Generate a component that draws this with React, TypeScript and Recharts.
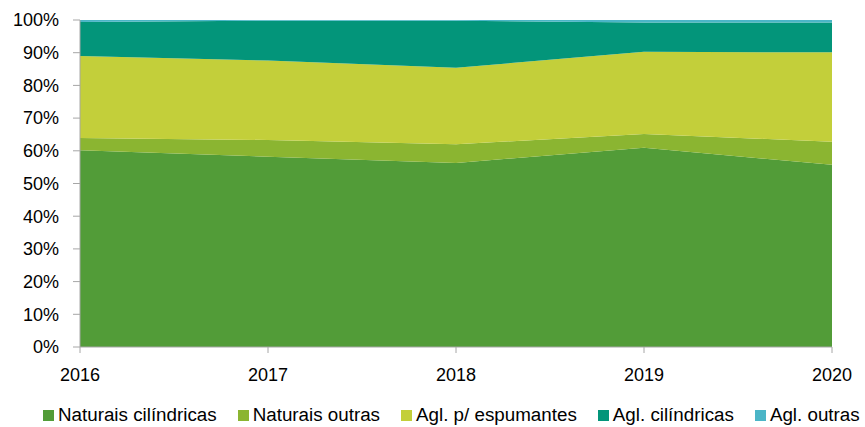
import React from 'react';
import { AreaChart, Area, XAxis, YAxis, Legend } from 'recharts';

const years = ['2016', '2017', '2018', '2019', '2020'];
const naturaisCilindricas = [60.2, 58.2, 56.3, 60.9, 55.7];
const naturaisOutras = [3.7, 5.1, 5.7, 4.2, 7.1];
const aglEspumantes = [25.1, 24.3, 23.4, 25.2, 27.3];
const aglCilindricas = [10.4, 12.2, 14.4, 8.9, 9.1];
const aglOutras = [0.6, 0.2, 0.2, 0.8, 0.8];
const yTicks = [0, 0.1, 0.2, 0.3, 0.4, 0.5, 0.6, 0.7, 0.8, 0.9, 1];

const seriesNames = ['Naturais cilíndricas', 'Naturais outras', 'Agl. p/ espumantes', 'Agl. cilíndricas', 'Agl. outras'];
const seriesKeys = ['nc', 'no', 'ae', 'ac', 'ao'];
const seriesColors = ['#529C38', '#8BB531', '#C3CF3A', '#03957A', '#4BB5C7'];

const data = years.map((y, i) => ({
  year: y,
  nc: naturaisCilindricas[i],
  no: naturaisOutras[i],
  ae: aglEspumantes[i],
  ac: aglCilindricas[i],
  ao: aglOutras[i],
}));

const FONT = '"Liberation Sans", Arial, sans-serif';

const LegendContent = () => (
  <div style={{ display: 'flex', justifyContent: 'flex-start', paddingLeft: 43, paddingTop: 17, gap: 21, fontFamily: FONT, fontSize: 18.8, lineHeight: '22px', color: '#000', whiteSpace: 'nowrap' }}>
    {seriesNames.map((n, i) => (
      <div key={n} style={{ display: 'flex', alignItems: 'center' }}>
        <span style={{ display: 'inline-block', width: 11, height: 11, background: seriesColors[i], marginRight: 4 }} />
        <span>{n}</span>
      </div>
    ))}
  </div>
);

export default function App() {
  return (
    <div style={{ position: 'absolute', left: 0, top: 0, width: 865, height: 427, background: '#fff' }}>
      <AreaChart width={865} height={427} data={data} stackOffset="expand" margin={{ top: 20, right: 33, left: 0, bottom: 0 }}>
        <XAxis
          dataKey="year"
          tickLine={{ stroke: '#A6A6A6' }}
          axisLine={{ stroke: '#A6A6A6' }}
          tickSize={6}
          tickMargin={15}
          height={40}
          padding={{ left: 0, right: 0 }}
          tick={{ fill: '#000', fontSize: 18, fontFamily: FONT }}
        />
        <YAxis
          width={80}
          domain={[0, 1]}
          ticks={yTicks}
          interval={0}
          tickFormatter={(v: number) => `${Math.round(v * 100)}%`}
          tickLine={{ stroke: '#A6A6A6' }}
          axisLine={{ stroke: '#A6A6A6' }}
          tickSize={7}
          tickMargin={14}
          tick={{ fill: '#000', fontSize: 18, fontFamily: FONT }}
        />
        <Legend verticalAlign="bottom" height={40} content={<LegendContent />} />
        {seriesKeys.map((k, i) => (
          <Area
            key={k}
            type="linear"
            dataKey={k}
            name={seriesNames[i]}
            stackId="1"
            stroke="none"
            fill={seriesColors[i]}
            fillOpacity={1}
            isAnimationActive={false}
          />
        ))}
      </AreaChart>
    </div>
  );
}
